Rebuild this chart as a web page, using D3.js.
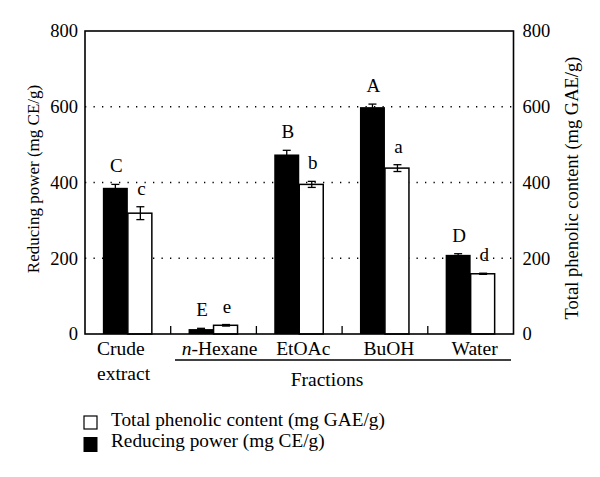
<!DOCTYPE html>
<html><head><meta charset="utf-8">
<script src="https://cdn.jsdelivr.net/npm/d3@7"></script>
<style>body{margin:0;background:#fff}text{font-family:"Liberation Serif","DejaVu Serif",serif;fill:#000}</style>
</head><body>
<svg id="c" width="600" height="477"></svg>
<script>
const categories = ["Crude extract", "n-Hexane", "EtOAc", "BuOH", "Water"];
const reducingPower = [386, 13, 474, 599, 209];
const reducingErr = [9, 2, 11, 8, 3];
const phenolic = [319, 23, 395, 438, 159];
const phenolicErr = [17, 2, 8, 9, 1.5];
const reducingLetters = ["C", "E", "B", "A", "D"];
const phenolicLetters = ["c", "e", "b", "a", "d"];
const yTicks = [0, 200, 400, 600, 800];

const svg = d3.select("#c");
const L = 85, R = 513.5, T = 31, B = 334;
const x = d3.scaleBand().domain(categories).range([L, R]).paddingInner(0).paddingOuter(0);
const y = d3.scaleLinear().domain([0, 800]).range([B, T]);
const y2 = d3.scaleLinear().domain([0, 800]).range([B, T]);
const barW = 25;

// grid dotted
svg.append("g").selectAll("line").data(yTicks.filter(d => d > 0 && d < 800)).join("line")
  .attr("x1", L).attr("x2", R).attr("y1", d => y(d)).attr("y2", d => y(d))
  .attr("stroke", "#000").attr("stroke-width", 1.3).attr("stroke-dasharray", "1.3,7.2");

// bars
const g = svg.append("g");
categories.forEach((c, i) => {
  const cx = x(c) + x.bandwidth() / 2;
  g.append("rect").attr("x", cx - barW).attr("y", y(reducingPower[i])).attr("width", barW)
    .attr("height", B - y(reducingPower[i])).attr("fill", "#000");
  g.append("rect").attr("x", cx).attr("y", y2(phenolic[i])).attr("width", barW - 1)
    .attr("height", B - y2(phenolic[i])).attr("fill", "#fff").attr("stroke", "#000").attr("stroke-width", 1.5);
  const eb = (xc, v, e, sc) => {
    const e1 = sc(v + e), e2 = sc(v - e);
    g.append("line").attr("x1", xc).attr("x2", xc).attr("y1", e1).attr("y2", e2).attr("stroke", "#000").attr("stroke-width", 1.3);
    g.append("line").attr("x1", xc - 4).attr("x2", xc + 4).attr("y1", e1).attr("y2", e1).attr("stroke", "#000").attr("stroke-width", 1.3);
    g.append("line").attr("x1", xc - 4).attr("x2", xc + 4).attr("y1", e2).attr("y2", e2).attr("stroke", "#000").attr("stroke-width", 1.3);
  };
  eb(cx - barW / 2, reducingPower[i], reducingErr[i], y);
  eb(cx + barW / 2, phenolic[i], phenolicErr[i], y2);
  g.append("text").attr("x", cx - barW / 2 + 1).attr("y", y(reducingPower[i] + reducingErr[i]) - 12)
    .attr("text-anchor", "middle").attr("font-size", 19).text(reducingLetters[i]);
  g.append("text").attr("x", cx + barW / 2 + 1).attr("y", y2(phenolic[i] + phenolicErr[i]) - 12)
    .attr("text-anchor", "middle").attr("font-size", 19).text(phenolicLetters[i]);
});

// frame
svg.append("rect").attr("x", L).attr("y", T).attr("width", R - L).attr("height", B - T)
  .attr("fill", "none").attr("stroke", "#000").attr("stroke-width", 1.6);

// inner ticks at category boundaries
svg.append("g").selectAll("line").data(categories.slice(1)).join("line")
  .attr("x1", d => x(d)).attr("x2", d => x(d)).attr("y1", B).attr("y2", B - 8)
  .attr("stroke", "#000").attr("stroke-width", 1.3);

// y axes labels
const yl = d3.axisLeft(y).tickValues(yTicks).tickSize(0).tickPadding(7);
const gl = svg.append("g").attr("transform", `translate(${L},0)`).call(yl);
gl.select(".domain").remove();
gl.selectAll("text").attr("font-size", 18.5).style("font-family", '"Liberation Serif",serif');
const yr = d3.axisRight(y2).tickValues(yTicks).tickSize(0).tickPadding(9);
const gr = svg.append("g").attr("transform", `translate(${R},0)`).call(yr);
gr.select(".domain").remove();
gr.selectAll("text").attr("font-size", 18.5).style("font-family", '"Liberation Serif",serif');

// axis titles
svg.append("text").attr("transform", "translate(39,179) rotate(-90)").attr("text-anchor", "middle")
  .attr("font-size", 17).text("Reducing power (mg CE/g)");
svg.append("text").attr("transform", "translate(578,188) rotate(-90)").attr("text-anchor", "middle")
  .attr("font-size", 18.5).text("Total phenolic content (mg GAE/g)");

// x labels
const xlab = svg.append("g").attr("font-size", 19.5);
xlab.append("text").attr("x", 97).attr("y", 355).text("Crude");
xlab.append("text").attr("x", 97).attr("y", 380).text("extract");
const hx = xlab.append("text").attr("x", x("n-Hexane") + x.bandwidth() / 2 + 6).attr("y", 355).attr("text-anchor", "middle");
hx.append("tspan").attr("font-style", "italic").text("n");
hx.append("tspan").text("-Hexane");
["EtOAc", "BuOH", "Water"].forEach(c => {
  xlab.append("text").attr("x", x(c) + x.bandwidth() / 2 + 4).attr("y", 355).attr("text-anchor", "middle").text(c);
});
svg.append("line").attr("x1", 175).attr("x2", 511).attr("y1", 360).attr("y2", 360).attr("stroke", "#000").attr("stroke-width", 1.5);
svg.append("text").attr("x", 327).attr("y", 386).attr("text-anchor", "middle").attr("font-size", 19.5).text("Fractions");

// legend
const lg = svg.append("g");
lg.append("rect").attr("x", 84).attr("y", 416).attr("width", 13).attr("height", 13).attr("fill", "#fff").attr("stroke", "#000").attr("stroke-width", 1.2);
lg.append("rect").attr("x", 83.5).attr("y", 437).attr("width", 14).attr("height", 15).attr("fill", "#000");
lg.append("text").attr("x", 111).attr("y", 426).attr("font-size", 19.3).text("Total phenolic content (mg GAE/g)");
lg.append("text").attr("x", 111).attr("y", 447).attr("font-size", 19.3).text("Reducing power (mg CE/g)");
</script>
</body></html>
